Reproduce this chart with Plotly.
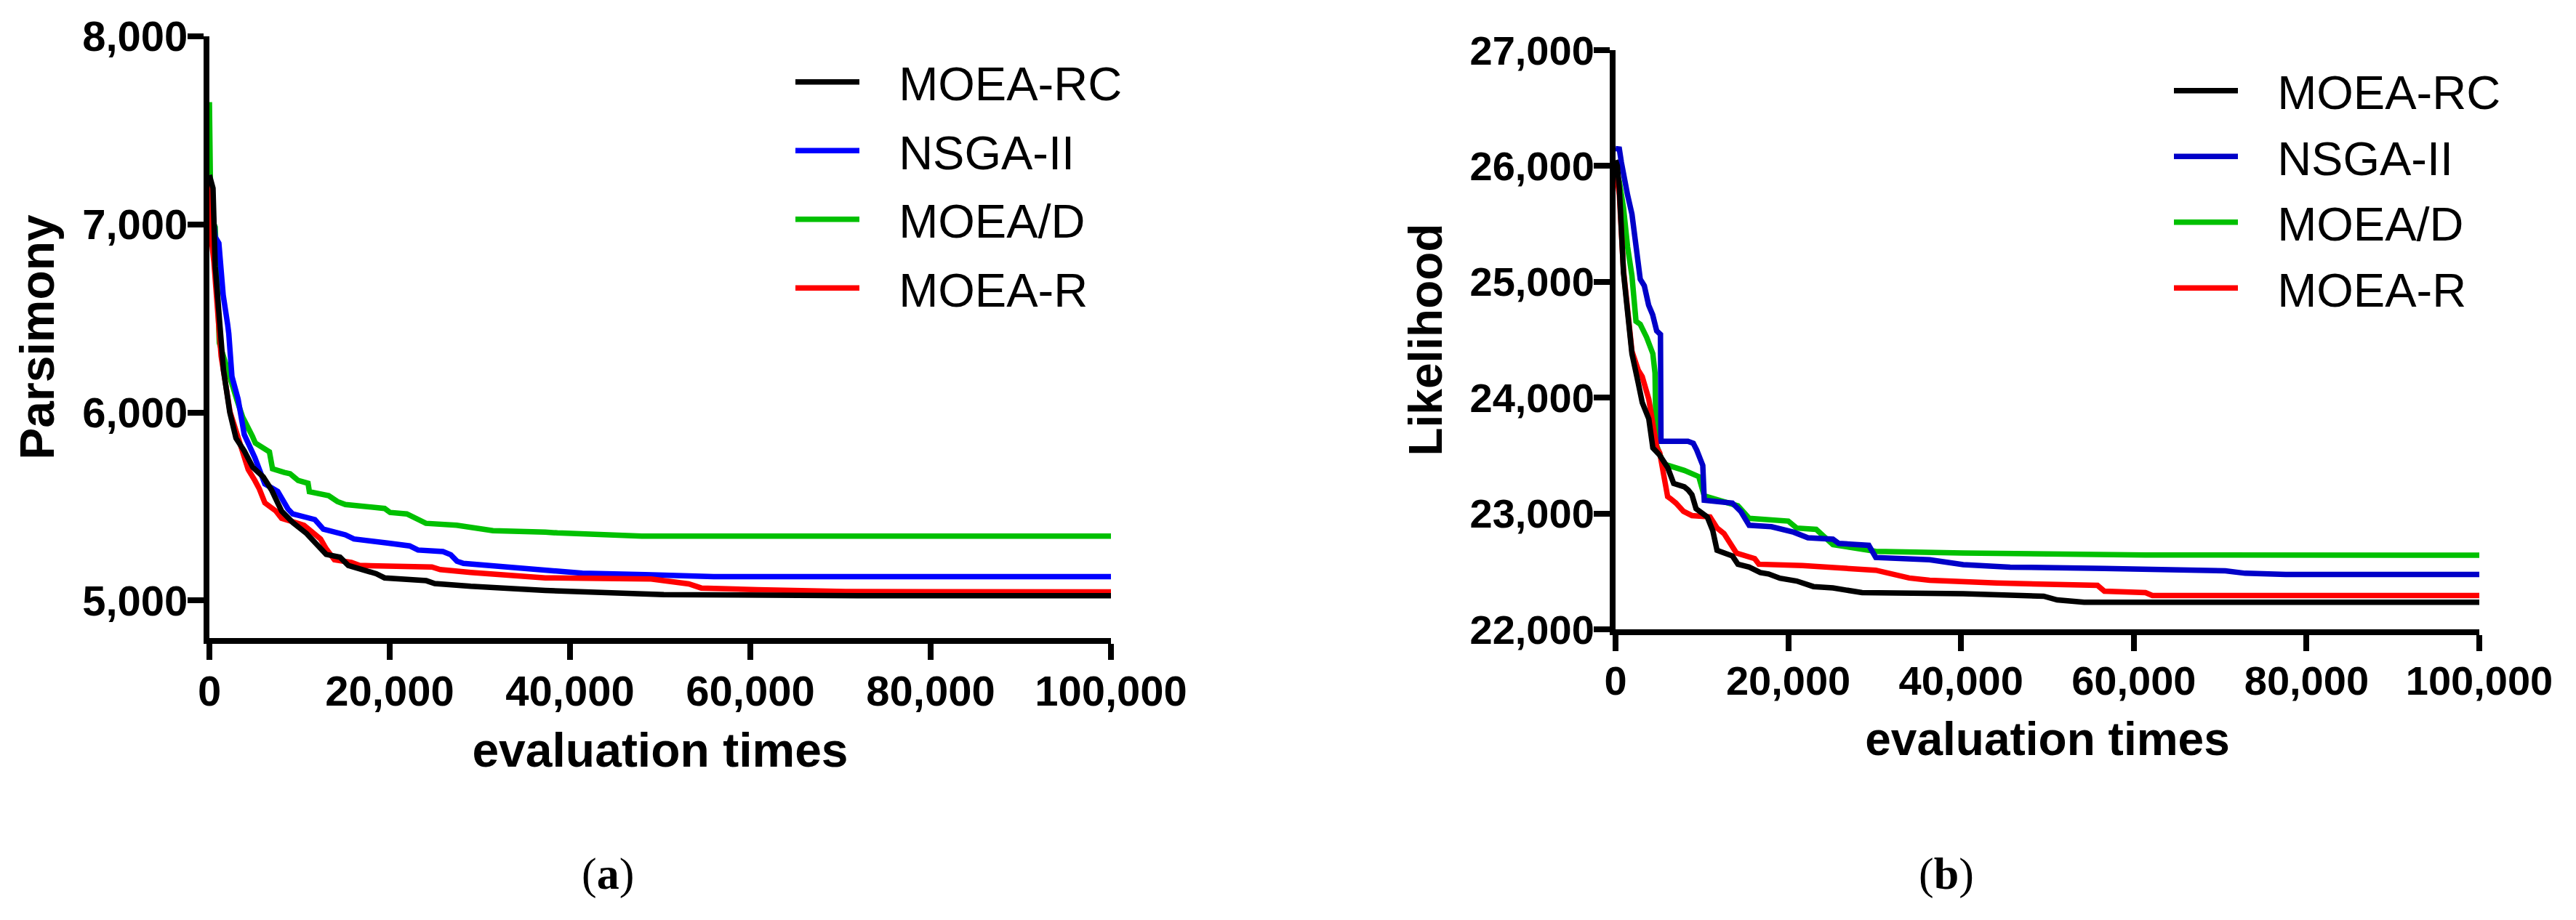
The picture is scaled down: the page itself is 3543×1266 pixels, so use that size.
import plotly.graph_objects as go

# ---------------- data: (a) Parsimony ----------------
names = ["MOEA-RC", "NSGA-II", "MOEA/D", "MOEA-R"]

a_rc_x = [0, 400, 645, 1100, 1560, 2260, 2950, 3870, 4810, 5970, 6890, 8010, 9240, 10780, 12330, 12950, 14490,
          15410, 16960, 18500, 19430, 24060, 24990, 28990, 37260, 39260, 50400, 71940, 100000]
a_rc_y = [7262, 7192, 6778, 6537, 6226, 6001, 5863, 5795, 5708, 5657, 5588, 5475, 5415, 5356, 5282, 5245, 5230,
          5186, 5164, 5142, 5120, 5105, 5090, 5075, 5053, 5050, 5031, 5025, 5025]

a_ns_x = [0, 645, 1050, 1330, 1530, 2020, 2150, 2500, 2900, 3180, 3870, 5040, 6150, 7580, 8710, 9240, 11700,
          12640, 15080, 16030, 19740, 22210, 23140, 25910, 26770, 27460, 28180, 35830, 41370, 48340, 55950, 100000]
a_ns_y = [7262, 6933, 6900, 6744, 6624, 6469, 6419, 6191, 6121, 6071, 5882, 5760, 5620, 5580, 5487, 5460, 5430,
          5379, 5349, 5327, 5305, 5290, 5268, 5260, 5243, 5209, 5197, 5171, 5145, 5137, 5127, 5127]

a_md_x = [0, 160, 645, 870, 1100, 3070, 3690, 4760, 5100, 6660, 7000, 8310, 8950, 9840, 10940, 11090, 13230,
          14200, 15080, 19440, 20040, 21900, 23710, 24020, 27420, 31450, 37260, 38600, 47960, 100000]
a_md_y = [7650, 7037, 6985, 6640, 6370, 6063, 5975, 5874, 5837, 5790, 5700, 5681, 5674, 5638, 5623, 5578, 5557,
          5526, 5510, 5489, 5468, 5460, 5423, 5410, 5400, 5371, 5363, 5359, 5342, 5342]

a_mr_x = [0, 160, 500, 1300, 2300, 3200, 4110, 4310, 5040, 5540, 6150, 7390, 8010, 10490, 12330, 12950, 13870,
          15740, 16650, 24680, 25600, 28990, 37260, 40970, 49000, 53170, 54560, 60810, 70540, 100000]
a_mr_y = [7262, 6950, 6800, 6300, 6000, 5860, 5727, 5696, 5638, 5593, 5519, 5475, 5437, 5400, 5327, 5275, 5216,
          5202, 5186, 5178, 5164, 5149, 5120, 5118, 5114, 5088, 5066, 5057, 5047, 5045]

# ---------------- data: (b) Likelihood ----------------
b_rc_x = [0, 200, 440, 920, 1390, 1900, 2630, 3090, 3850, 4320, 5040, 6030, 6730, 7960, 8420, 8840, 9320, 10620,
          11260, 11750, 13530, 14170, 15470, 16760, 17720, 19030, 20970, 22910, 25170, 27700, 28540, 40250, 49570,
          51130, 54250, 100000]
b_rc_y = [26050, 26002, 25807, 25079, 24743, 24379, 24125, 23958, 23817, 23566, 23510, 23397, 23259, 23230, 23202,
          23162, 23042, 22970, 22851, 22682, 22633, 22562, 22537, 22490, 22478, 22441, 22417, 22369, 22357, 22322,
          22317, 22307, 22286, 22254, 22234, 22234]

b_ns_x = [0, 440, 670, 920, 1390, 1900, 2370, 2860, 3330, 3830, 4300, 4760, 5200, 5260, 8380, 9000, 9400, 10100,
          10270, 13530, 14500, 15470, 18050, 20640, 22270, 25170, 25840, 27700, 29320, 30130, 36360, 40250, 45690,
          56600, 63620, 70600, 72900, 77600, 100000]
b_ns_y = [26150, 26146, 26033, 25920, 25751, 25584, 25303, 25023, 24966, 24799, 24715, 24577, 24546, 23623, 23623,
          23606, 23547, 23415, 23114, 23090, 23018, 22898, 22886, 22838, 22790, 22778, 22742, 22731, 22725, 22620,
          22600, 22558, 22537, 22526, 22517, 22505, 22484, 22473, 22473]

b_md_x = [0, 440, 920, 1390, 1900, 2370, 2860, 3600, 4320, 4570, 4700, 5040, 5540, 7960, 9640, 10270, 14170,
          15470, 20000, 20970, 23230, 25170, 27700, 30130, 40250, 50400, 61350, 100000]
b_md_y = [25977, 25864, 25640, 25303, 25051, 24659, 24633, 24521, 24379, 24213, 23600, 23538, 23428, 23372, 23318,
          23152, 23066, 22958, 22934, 22874, 22863, 22731, 22706, 22673, 22659, 22646, 22642, 22640]

b_mr_x = [0, 440, 920, 1390, 1900, 2630, 3090, 3850, 4780, 5120, 5760, 6030, 6390, 6990, 7870, 8840, 10940, 11740,
          12560, 13200, 14000, 16110, 16600, 21640, 27700, 30130, 34000, 36360, 44130, 55800, 56600, 61360, 62150,
          100000]
b_mr_y = [26000, 25750, 25100, 24720, 24400, 24237, 24181, 23987, 23566, 23522, 23222, 23146, 23127, 23090, 23018,
          22982, 22970, 22876, 22826, 22754, 22658, 22610, 22562, 22550, 22520, 22510, 22443, 22423, 22400, 22379,
          22329, 22317, 22292, 22292]

x_ticks = [0, 20000, 40000, 60000, 80000, 100000]
a_y_ticks = [5000, 6000, 7000, 8000]
b_y_ticks = [22000, 23000, 24000, 25000, 26000, 27000]

colors_a = {"MOEA-RC": "#000000", "NSGA-II": "#0000FF", "MOEA/D": "#00C000", "MOEA-R": "#FF0000"}
colors_b = {"MOEA-RC": "#000000", "NSGA-II": "#0000C8", "MOEA/D": "#00C000", "MOEA-R": "#FF0000"}

W, H = 3543, 1266
SANS = "Liberation Sans, Arial, sans-serif"
LW = 7.5
PAD = "\u00a0\u00a0\u2009"   # gap between legend line and label

fig = go.Figure()

series_a = {"MOEA-RC": (a_rc_x, a_rc_y), "NSGA-II": (a_ns_x, a_ns_y),
            "MOEA/D": (a_md_x, a_md_y), "MOEA-R": (a_mr_x, a_mr_y)}
series_b = {"MOEA-RC": (b_rc_x, b_rc_y), "NSGA-II": (b_ns_x, b_ns_y),
            "MOEA/D": (b_md_x, b_md_y), "MOEA-R": (b_mr_x, b_mr_y)}

draw_order = ["MOEA/D", "NSGA-II", "MOEA-R", "MOEA-RC"]
for nm in draw_order:
    xs, ys = series_a[nm]
    fig.add_trace(go.Scatter(x=xs, y=ys, mode="lines", name=PAD + nm, xaxis="x", yaxis="y",
                             line=dict(color=colors_a[nm], width=LW), legend="legend",
                             legendgroup="a" + nm, legendrank=names.index(nm) + 1))
for nm in draw_order:
    xs, ys = series_b[nm]
    fig.add_trace(go.Scatter(x=xs, y=ys, mode="lines", name=PAD + nm, xaxis="x2", yaxis="y2",
                             line=dict(color=colors_b[nm], width=LW), legend="legend2",
                             legendgroup="b" + nm, legendrank=names.index(nm) + 1))

tickfont_a = dict(family=SANS, size=58, color="black", weight="bold")
tickfont_b = dict(family=SANS, size=56, color="black", weight="bold")
titlefont_a = dict(family=SANS, size=66, color="black", weight="bold")
titlefont_b = dict(family=SANS, size=64, color="black", weight="bold")
common = dict(showline=True, linewidth=8, linecolor="black", ticks="outside", ticklen=22, tickwidth=8,
              tickcolor="black", showgrid=False, zeroline=False, tickformat=",", automargin=False)

fig.update_layout(
    width=W, height=H, margin=dict(l=0, r=0, t=0, b=0, autoexpand=False),
    paper_bgcolor="white", plot_bgcolor="white",
    xaxis=dict(domain=[288 / W, 1528 / W], range=[0, 100000], tickvals=x_ticks, anchor="y",
               tickfont=tickfont_a, ticklabelstandoff=-7,
               title=dict(text="evaluation times", font=titlefont_a, standoff=30), **common),
    yaxis=dict(domain=[1 - 878 / H, 1 - 50 / H], range=[4800, 8000], tickvals=a_y_ticks, anchor="x",
               tickfont=tickfont_a, ticklabelstandoff=-12,
               title=dict(text="Parsimony", font=titlefont_a, standoff=20), **common),
    xaxis2=dict(domain=[2222 / W, 3410 / W], range=[0, 100000], tickvals=x_ticks, anchor="y2",
                tickfont=tickfont_b, ticklabelstandoff=-7,
                title=dict(text="evaluation times", font=titlefont_b, standoff=30), **common),
    yaxis2=dict(domain=[1 - 866 / H, 1 - 69 / H], range=[22000, 27000], tickvals=b_y_ticks, anchor="x2",
                tickfont=tickfont_b, ticklabelstandoff=-12,
                title=dict(text="Likelihood", font=titlefont_b, standoff=20), **common),
    legend=dict(x=1089 / W, y=1 - 64 / H, xanchor="left", yanchor="top", bgcolor="rgba(0,0,0,0)",
                font=dict(family=SANS, size=65, color="black"), itemwidth=88, tracegroupgap=7),
    legend2=dict(x=2985 / W, y=1 - 76 / H, xanchor="left", yanchor="top", bgcolor="rgba(0,0,0,0)",
                 font=dict(family=SANS, size=65, color="black"), itemwidth=88, tracegroupgap=3),
    showlegend=True,
    annotations=[
        dict(text="(<b>a</b>)", x=836 / W, y=1 - 1202 / H, xref="paper", yref="paper", showarrow=False,
             xanchor="center", yanchor="middle",
             font=dict(family="Liberation Serif, Times New Roman, serif", size=62, color="black")),
        dict(text="(<b>b</b>)", x=2677 / W, y=1 - 1202 / H, xref="paper", yref="paper", showarrow=False,
             xanchor="center", yanchor="middle",
             font=dict(family="Liberation Serif, Times New Roman, serif", size=62, color="black")),
    ],
)

fig.write_html("out.html")
